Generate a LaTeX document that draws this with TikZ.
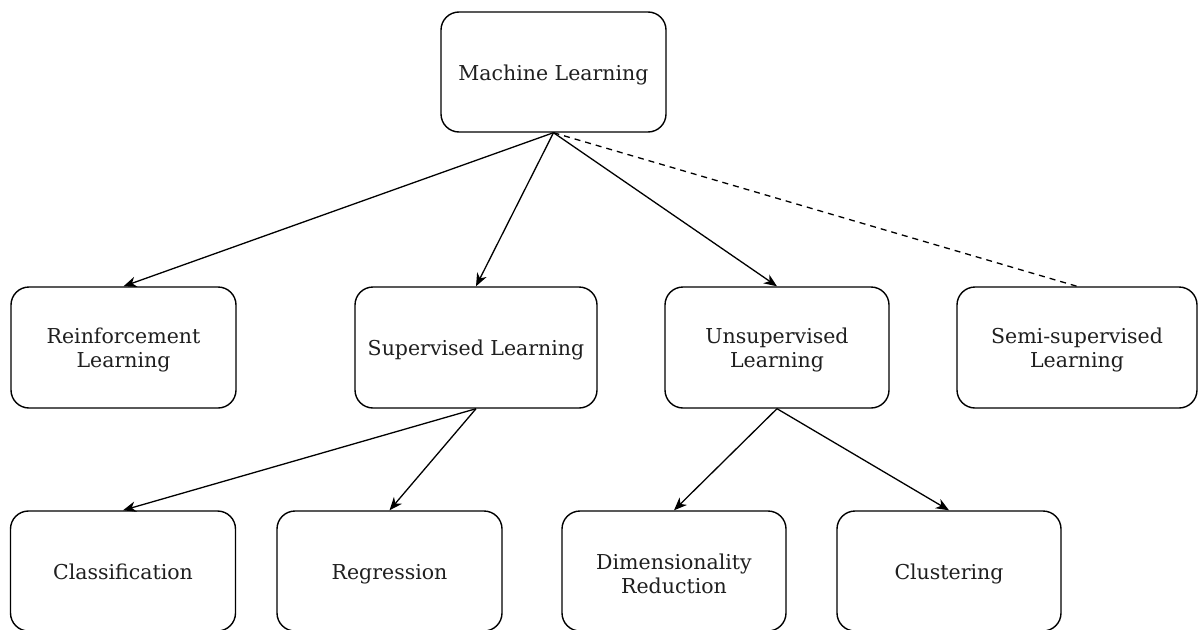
\documentclass[tikz,border=0pt]{standalone}
\usepackage{fontspec}
\setmainfont{DejaVu Serif}
\usetikzlibrary{arrows.meta}
% extra room above the first line of a two-line label
\newcommand\lineroom{\rule{0pt}{20.5pt}}
\begin{document}
\begin{tikzpicture}[x=1pt,y=-1pt,
  box/.style={draw=black, line width=1.4pt, rounded corners=18pt, fill=white,
    align=center, inner sep=0pt, minimum height=120pt,
    font=\fontsize{20.5}{24}\selectfont, text=black!88},
  oneline/.style={text height=20.5pt, text depth=4pt},
  link/.style={line width=1.3pt, -{Stealth[length=13pt,width=10.5pt,inset=4pt]}},
  weak/.style={line width=1.3pt, dash pattern=on 6pt off 5pt}]
\useasboundingbox (0,0) rectangle (1198,629);
\clip (0,0) rectangle (1198,629);

% root
\node[box, oneline, minimum width=225pt] (ml) at (553.5,72) {Machine Learning};

% learning paradigms
\node[box, minimum width=225pt, minimum height=121pt] (rl) at (123.5,347.5) {\lineroom Reinforcement\\Learning};
\node[box, oneline, minimum width=242pt, minimum height=121pt] (sl) at (476,347.5) {Supervised Learning};
\node[box, minimum width=224pt, minimum height=121pt] (ul) at (777,347.5) {\lineroom Unsupervised\\Learning};
\node[box, minimum width=240pt, minimum height=121pt] (ssl) at (1077,347.5) {\lineroom Semi-supervised\\Learning};

% tasks
\node[box, oneline, minimum width=225pt] (cls) at (123,571) {Classification};
\node[box, oneline, minimum width=225pt] (reg) at (389.5,571) {Regression};
\node[box, minimum width=224pt] (dim) at (674,571) {\lineroom Dimensionality\\Reduction};
\node[box, oneline, minimum width=224pt] (clu) at (949,571) {Clustering};

% connectors
\draw[link] (ml.south) -- (rl.north);
\draw[link] (ml.south) -- (sl.north);
\draw[link] (ml.south) -- (ul.north);
\draw[weak] (ml.south) -- (ssl.north);
\draw[link] (sl.south) -- (cls.north);
\draw[link] (sl.south) -- (reg.north);
\draw[link] (ul.south) -- (dim.north);
\draw[link] (ul.south) -- (clu.north);
\end{tikzpicture}
\end{document}
